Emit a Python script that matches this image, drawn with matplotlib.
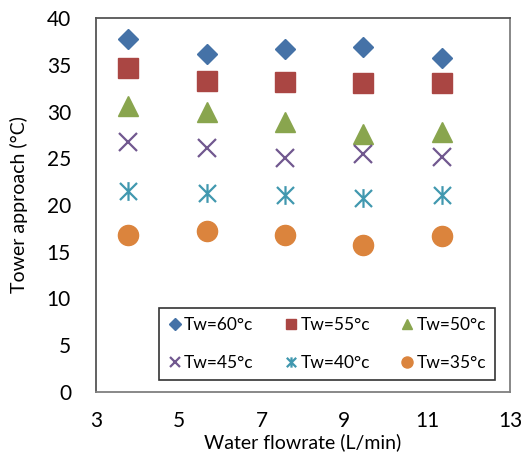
import matplotlib
matplotlib.use("Agg")
import matplotlib.pyplot as plt
from matplotlib.path import Path

plt.rcParams['font.family'] = ['Lato', 'DejaVu Sans']

flow = [3.78, 5.67, 7.57, 9.46, 11.35]
tw60 = [37.75, 36.1, 36.65, 36.9, 35.7]
tw55 = [34.6, 33.3, 33.15, 33.1, 33.0]
tw50 = [30.6, 29.95, 28.9, 27.55, 27.8]
tw45 = [26.7, 26.1, 25.0, 25.45, 25.1]
tw40 = [21.45, 21.25, 21.1, 20.75, 21.05]
tw35 = [16.75, 17.2, 16.8, 15.75, 16.7]
labels = ['Tw=60°c', 'Tw=55°c', 'Tw=50°c', 'Tw=45°c', 'Tw=40°c', 'Tw=35°c']
xticks = [3, 5, 7, 9, 11, 13]
yticks = [0, 5, 10, 15, 20, 25, 30, 35, 40]

star = Path([(-0.5, -0.5), (0.5, 0.5), (-0.5, 0.5), (0.5, -0.5), (0, -0.55), (0, 0.55)],
            [Path.MOVETO, Path.LINETO, Path.MOVETO, Path.LINETO, Path.MOVETO, Path.LINETO])

fig = plt.figure(figsize=(5.21, 4.55), dpi=100)
ax = fig.add_axes([96/521, 63/455, 414/521, 374/455])

series = [tw60, tw55, tw50, tw45, tw40, tw35]
styles = [
    dict(marker='D', ms=10.5, color='#4572A7', mec='#4572A7'),
    dict(marker='s', ms=14.2, color='#AA4643', mec='#AA4643'),
    dict(marker='^', ms=14.2, color='#89A54E', mec='#89A54E'),
    dict(marker='x', ms=13, color='#71588F', mec='#71588F', mew=1.6),
    dict(marker=star, ms=13.5, color='#4198AF', mec='#4198AF', mew=1.6),
    dict(marker='o', ms=14.5, color='#DB843D', mec='#DB843D'),
]
handles = []
for ys, st, lab in zip(series, styles, labels):
    h, = ax.plot(flow, ys, linestyle='none', label=lab, **st)
    handles.append(h)

ax.set_xlim(3, 13)
ax.set_ylim(0, 40)
ax.set_xticks(xticks)
ax.set_yticks(yticks)
ax.tick_params(axis='both', length=0, labelsize=15)
ax.tick_params(axis='x', pad=14)
ax.tick_params(axis='y', pad=18)
for s in ax.spines.values():
    s.set_color('#7f7f7f')
    s.set_linewidth(1.3)
ax.spines['left'].set_color('#555555')
ax.spines['top'].set_color('#555555')

ax.set_xlabel('Water flowrate (L/min)', fontsize=14, labelpad=1)
ax.set_ylabel('Tower approach (°C)', fontsize=14)
ax.yaxis.set_label_coords(-0.165, 0.5)

order = [0, 3, 1, 4, 2, 5]
leg = ax.legend(handles=[handles[i] for i in order], labels=[labels[i] for i in order],
                ncol=3, loc='lower left',
                bbox_to_anchor=(0.152, 0.032, 0.812, 0.193), mode='expand',
                fontsize=12.5, frameon=True, fancybox=False, edgecolor='black',
                handlelength=0.8, handletextpad=0.15, labelspacing=1.3,
                borderaxespad=0, markerscale=0.55, borderpad=0.5)
leg.get_frame().set_linewidth(1.2)

fig.savefig('out.png', dpi=100, facecolor='white')
